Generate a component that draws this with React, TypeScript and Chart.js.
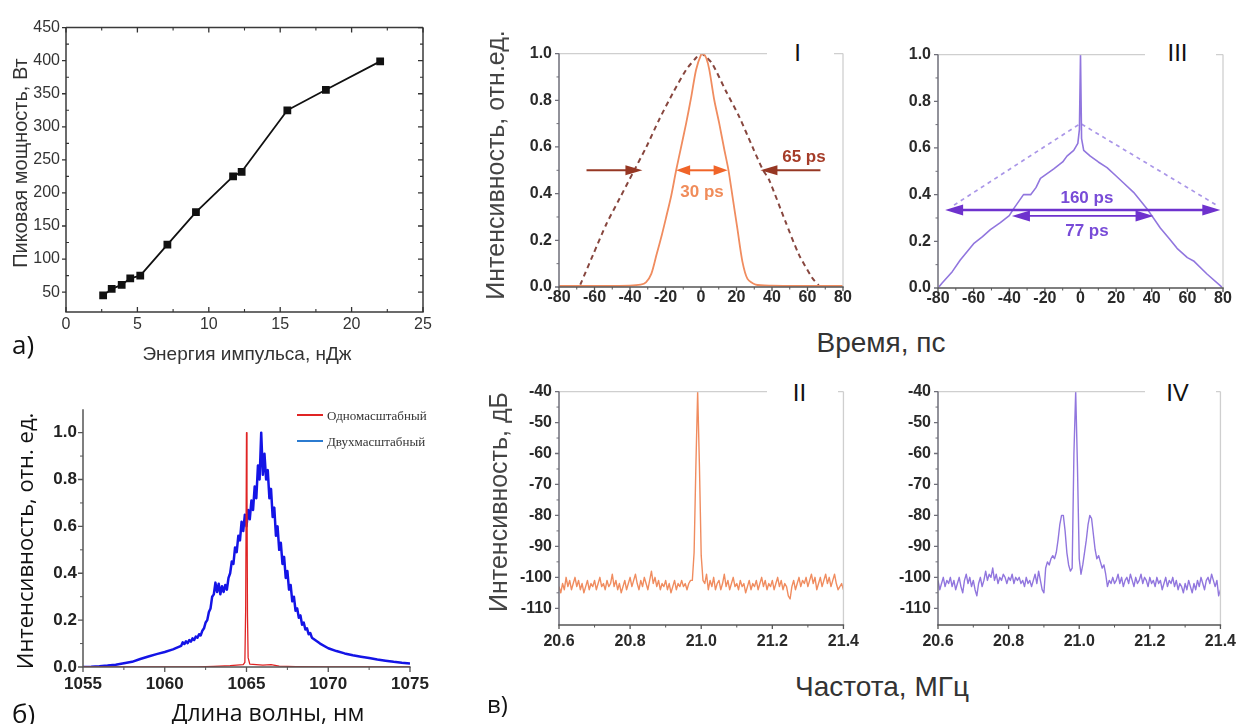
import React, { useEffect, useRef } from "react";
import { Chart, registerables } from "chart.js";

Chart.register(...registerables);

const SANS = "'Liberation Sans', Arial, Helvetica, sans-serif";
const SERIF = "'Liberation Serif', 'Times New Roman', serif";
const CAL = "'Open Sans', 'Noto Sans', sans-serif";

// ---------- а) peak power vs pulse energy ----------
const energyA = [2.6, 3.2, 3.9, 4.5, 5.2, 7.1, 9.1, 11.7, 12.3, 15.5, 18.2, 22.0];
const powerA = [45, 55, 61, 71, 75, 122, 171, 225, 232, 325, 356, 399];
const xTicksA = [0, 5, 10, 15, 20, 25];
const yTicksA = [50, 100, 150, 200, 250, 300, 350, 400, 450];

// ---------- б) spectra ----------
const legendB = ["Одномасштабный", "Двухмасштабный"];
const wavelengthRed = [1055, 1062, 1063, 1064, 1064.8, 1064.9, 1064.95, 1065, 1065.03, 1065.06, 1065.1, 1065.2, 1066, 1066.5, 1067, 1068, 1070, 1075];
const intensityRed = [0, 0, 0.003, 0.006, 0.01, 0.02, 0.25, 1.0, 0.75, 0.22, 0.04, 0.012, 0.008, 0.01, 0.004, 0.002, 0, 0];
const wavelengthBlue = [
  1055, 1055.5, 1056, 1056.5, 1057, 1057.5, 1058, 1058.5, 1059, 1059.5, 1060, 1060.5,
  1061, 1061.1, 1061.2, 1061.3, 1061.4, 1061.5, 1061.6, 1061.7, 1061.8, 1061.9,
  1062, 1062.1, 1062.2, 1062.3, 1062.4, 1062.5, 1062.6, 1062.7, 1062.8, 1062.9,
  1063, 1063.1, 1063.2, 1063.3, 1063.4, 1063.5, 1063.6, 1063.7, 1063.8, 1063.9,
  1064, 1064.1, 1064.2, 1064.3, 1064.4, 1064.5, 1064.6, 1064.7, 1064.8, 1064.9,
  1065, 1065.1, 1065.2, 1065.3, 1065.4, 1065.5, 1065.6, 1065.7, 1065.8, 1065.9,
  1066, 1066.1, 1066.2, 1066.3, 1066.4, 1066.5, 1066.6, 1066.7, 1066.8, 1066.9,
  1067, 1067.1, 1067.2, 1067.3, 1067.4, 1067.5, 1067.6, 1067.7, 1067.8, 1067.9,
  1068, 1068.1, 1068.2, 1068.3, 1068.4, 1068.5, 1068.6, 1068.7, 1068.8, 1068.9,
  1069,
  1069.5, 1070, 1070.5, 1071, 1071.5, 1072, 1072.5, 1073, 1073.5, 1074, 1074.5, 1075,
];
const intensityBlue = [
  0, 0.001, 0.003, 0.006, 0.01, 0.016, 0.022, 0.034, 0.045, 0.055, 0.064, 0.075,
  0.09, 0.105, 0.098, 0.11, 0.102, 0.115, 0.108, 0.122, 0.115, 0.13,
  0.125, 0.14, 0.135, 0.155, 0.165, 0.19, 0.2, 0.235, 0.25, 0.3,
  0.31, 0.36, 0.32, 0.355, 0.31, 0.345, 0.32, 0.35, 0.33, 0.38,
  0.4, 0.45, 0.44, 0.51, 0.49, 0.56, 0.54, 0.62, 0.58, 0.65,
  0.6, 0.67, 0.63, 0.71, 0.67, 0.77, 0.72, 0.86, 0.8, 1.0,
  0.82, 0.91, 0.8, 0.84, 0.72, 0.76, 0.64, 0.68, 0.56, 0.6,
  0.5, 0.53, 0.44, 0.47, 0.38, 0.41, 0.33, 0.35, 0.28, 0.3,
  0.24, 0.25, 0.21, 0.22, 0.18, 0.19, 0.16, 0.165, 0.14, 0.145,
  0.125,
  0.1, 0.08, 0.068, 0.058, 0.05, 0.044, 0.038, 0.032, 0.027, 0.022, 0.018, 0.015,
];
const xTicksB = [1055, 1060, 1065, 1070, 1075];
const yTicksB = [0, 0.2, 0.4, 0.6, 0.8, 1.0];

// ---------- в) I: single-scale pulse ----------
const timeISolid = [-80, -60, -40, -34, -31, -28, -25, -22, -19.6, -16.8, -14, -11.2, -8.4, -5.6, -2.8, 0, 1.3, 3, 4.7, 7.5, 10.3, 13.1, 15.5, 17.7, 20.5, 23.3, 26.2, 30.8, 40, 60, 80];
const intensityISolid = [0.005, 0.005, 0.006, 0.01, 0.02, 0.056, 0.14, 0.225, 0.3, 0.39, 0.5, 0.6, 0.7, 0.81, 0.93, 0.995, 1.0, 0.98, 0.93, 0.8, 0.7, 0.59, 0.5, 0.39, 0.25, 0.11, 0.035, 0.01, 0.006, 0.005, 0.005];
const timeIDashed = [-68, -60.7, -53.3, -45.8, -38.3, -30.8, -23.4, -15.9, -8.4, -3, 0, 3, 6.5, 14, 21.5, 29, 34.6, 38.3, 47.6, 55.1, 62.6, 66.3];
const intensityIDashed = [0.01, 0.14, 0.27, 0.38, 0.49, 0.6, 0.72, 0.83, 0.93, 0.98, 1.0, 0.985, 0.955, 0.84, 0.73, 0.6, 0.506, 0.46, 0.28, 0.14, 0.04, 0.007];
const arrowsIOuter = [[-64.5, -33, 0.5], [67.3, 33.5, 0.5]];
const arrowIInner = [-14, 15, 0.5];
const textsI = [["65 ps", 58, 0.555], ["30 ps", 0.6, 0.407]];

// ---------- в) III: two-scale pulse ----------
const timeIIISolid = [-79.4, -77.8, -72, -67.5, -60, -55, -50.6, -45, -40, -37.5, -32, -28, -25, -22.5, -15, -10, -7.6, -3.8, -1.5, -0.6, 0, 0.6, 1.8, 5.5, 10, 14.9, 20, 24.2, 29.8, 33, 37.3, 44.8, 50, 54.2, 60, 63.5, 71, 79.4];
const intensityIIISolid = [0.005, 0.02, 0.07, 0.12, 0.19, 0.22, 0.25, 0.28, 0.31, 0.34, 0.4, 0.4, 0.43, 0.47, 0.51, 0.54, 0.565, 0.59, 0.62, 0.68, 1.0, 0.64, 0.59, 0.565, 0.54, 0.516, 0.48, 0.45, 0.41, 0.38, 0.34, 0.257, 0.21, 0.17, 0.13, 0.116, 0.06, 0.004];
const timeIIIDashed = [-71, 0, 77.5];
const intensityIIIDashed = [0.355, 0.705, 0.35];
const arrowsIII = [[-76, 78.5, 0.334], [-38.5, 41, 0.309]];
const textsIII = [["160 ps", 3.6, 0.383], ["77 ps", 3.6, 0.243]];

const timeTicks = [-80, -60, -40, -20, 0, 20, 40, 60, 80];
const relTicks = [0, 0.2, 0.4, 0.6, 0.8, 1.0];

// ---------- в) II / IV: RF spectra ----------
const freqRF = [
  20.6, 20.605, 20.61, 20.615, 20.62, 20.625, 20.63, 20.635, 20.64, 20.645,
  20.65, 20.655, 20.66, 20.665, 20.67, 20.675, 20.68, 20.685, 20.69, 20.695,
  20.7, 20.705, 20.71, 20.715, 20.72, 20.725, 20.73, 20.735, 20.74, 20.745,
  20.75, 20.755, 20.76, 20.765, 20.77, 20.775, 20.78, 20.785, 20.79, 20.795,
  20.8, 20.805, 20.81, 20.815, 20.82, 20.825, 20.83, 20.835, 20.84, 20.845,
  20.85, 20.855, 20.86, 20.865, 20.87, 20.875, 20.88, 20.885, 20.89, 20.895,
  20.9, 20.905, 20.91, 20.915, 20.92, 20.925, 20.93, 20.935, 20.94, 20.945,
  20.95, 20.955, 20.96, 20.965, 20.97, 20.975, 20.98, 20.985, 20.99, 20.995,
  21.0, 21.005, 21.01, 21.015, 21.02, 21.025, 21.03, 21.035, 21.04, 21.045,
  21.05, 21.055, 21.06, 21.065, 21.07, 21.075, 21.08, 21.085, 21.09, 21.095,
  21.1, 21.105, 21.11, 21.115, 21.12, 21.125, 21.13, 21.135, 21.14, 21.145,
  21.15, 21.155, 21.16, 21.165, 21.17, 21.175, 21.18, 21.185, 21.19, 21.195,
  21.2, 21.205, 21.21, 21.215, 21.22, 21.225, 21.23, 21.235, 21.24, 21.245,
  21.25, 21.255, 21.26, 21.265, 21.27, 21.275, 21.28, 21.285, 21.29, 21.295,
  21.3, 21.305, 21.31, 21.315, 21.32, 21.325, 21.33, 21.335, 21.34, 21.345,
  21.35, 21.355, 21.36, 21.365, 21.37, 21.375, 21.38, 21.385, 21.39, 21.395,
  21.4,
];
const levelII = [
  -103, -105, -102, -104, -100, -103, -101, -104, -102, -100,
  -103, -101, -104, -102, -105, -103, -101, -104, -102, -103,
  -101, -104, -102, -100, -103, -102, -104, -101, -103, -102,
  -99, -103, -101, -104, -102, -105, -103, -101, -104, -102,
  -100, -103, -101, -99, -102, -104, -101, -103, -100, -102,
  -104, -101, -98, -102, -100, -103, -101, -104, -102, -103,
  -101, -104, -102, -105, -103, -101, -104, -102, -103, -101,
  -103, -102, -104, -102, -101, -101, -92, -64, -40, -64,
  -93, -101, -102, -99, -104, -101, -103, -100, -104, -102,
  -101, -104, -102, -99, -103, -101, -104, -102, -100, -103,
  -102, -104, -101, -103, -102, -105, -103, -101, -104, -102,
  -103, -101, -104, -102, -100, -103, -101, -104, -102, -103,
  -101, -104, -102, -100, -103, -101, -104, -102, -103, -106,
  -107, -103, -101, -104, -102, -100, -103, -101, -102, -100,
  -103, -101, -99, -102, -100, -104, -102, -100, -103, -101,
  -99, -102, -100, -103, -101, -99, -102, -104, -103, -102,
  -104,
];
const levelIV = [
  -101, -104, -102, -100, -103, -101, -102, -100, -103, -101,
  -104, -102, -100, -103, -105, -101, -99, -102, -100, -103,
  -101, -104, -106, -102, -100, -103, -101, -98, -101, -99,
  -100, -97, -101, -99, -102, -100, -101, -99, -100, -102,
  -100, -101, -99, -102, -100, -101, -100, -102, -101, -103,
  -100, -102, -101, -103, -101, -99, -102, -98, -101, -104,
  -105, -97, -95, -96, -94, -93, -94, -92, -88, -83,
  -80, -80, -85, -92, -96, -98, -97, -60, -40, -64,
  -94, -99, -96, -92, -88, -83, -80, -81, -86, -91,
  -94, -93, -95, -97, -96, -99, -103, -101, -102, -100,
  -102, -101, -99, -102, -100, -103, -101, -100, -102, -99,
  -101, -103, -100, -102, -101, -99, -102, -100, -101, -103,
  -100, -102, -101, -103, -100, -102, -101, -104, -102, -100,
  -103, -101, -102, -100, -103, -101, -104, -102, -103, -105,
  -102, -104, -101, -103, -105, -102, -104, -101, -103, -100,
  -102, -104, -101, -100, -102, -99, -101, -103, -101, -106,
  -104,
];
const freqTicks = [20.6, 20.8, 21.0, 21.2, 21.4];
const dbTicks = [-110, -100, -90, -80, -70, -60, -50, -40];

// ---------- helpers ----------
const zip = (xs: number[], ys: number[]) => xs.map((x, i) => ({ x, y: ys[i] }));
const mids = (a: number[]) => a.slice(1).map((v, i) => (a[i] + v) / 2);

type Side = "top" | "bottom" | "left" | "right";
interface LineSpec { side: Side; color: string; width: number }
interface TickSpec { side: Side; values: number[]; len: number; out: boolean; color: string; width: number }
interface ArrowSpec { x1: number; x2: number; y: number; color: string; width: number; both: boolean; hl: number; hw: number }
interface TextSpec { text: string; x: number; y: number; color: string; font: string }

interface PanelSpec {
  key: string;
  L: number; T: number; R: number; B: number;
  yW: number; xH: number; padT: number; padR: number;
  xMin: number; xMax: number; yMin: number; yMax: number;
  xMajor: number[]; yMajor: number[];
  xFmt: (v: number) => string; yFmt: (v: number) => string;
  xPad: number; yPad: number;
  tickFont: any; tickColor: string;
  datasets: any[];
  lines: LineSpec[]; ticks: TickSpec[];
  arrows?: ArrowSpec[]; texts?: TextSpec[];
}

function buildConfig(p: PanelSpec) {
  const frame = {
    id: "frame",
    afterDatasetsDraw(chart: any) {
      const { ctx, chartArea: a, scales } = chart;
      ctx.save();
      for (const l of p.lines) {
        ctx.strokeStyle = l.color;
        ctx.lineWidth = l.width;
        ctx.beginPath();
        if (l.side === "top") { ctx.moveTo(a.left, a.top); ctx.lineTo(a.right, a.top); }
        if (l.side === "bottom") { ctx.moveTo(a.left - 0.7, a.bottom); ctx.lineTo(a.right + 0.7, a.bottom); }
        if (l.side === "left") { ctx.moveTo(a.left, a.top); ctx.lineTo(a.left, a.bottom); }
        if (l.side === "right") { ctx.moveTo(a.right, a.top); ctx.lineTo(a.right, a.bottom); }
        ctx.stroke();
      }
      for (const t of p.ticks) {
        ctx.strokeStyle = t.color;
        ctx.lineWidth = t.width;
        ctx.beginPath();
        for (const v of t.values) {
          if (t.side === "bottom" || t.side === "top") {
            const px = scales.x.getPixelForValue(v);
            const y0 = t.side === "bottom" ? a.bottom : a.top;
            const s = (t.side === "bottom" ? 1 : -1) * (t.out ? 1 : -1);
            ctx.moveTo(px, y0);
            ctx.lineTo(px, y0 + s * t.len);
          } else {
            const py = scales.y.getPixelForValue(v);
            const x0 = t.side === "left" ? a.left : a.right;
            const s = (t.side === "left" ? -1 : 1) * (t.out ? 1 : -1);
            ctx.moveTo(x0, py);
            ctx.lineTo(x0 + s * t.len, py);
          }
        }
        ctx.stroke();
      }
      const head = (tip: number, y: number, dir: number, hl: number, hw: number) => {
        ctx.beginPath();
        ctx.moveTo(tip, y);
        ctx.lineTo(tip - dir * hl, y - hw);
        ctx.lineTo(tip - dir * hl, y + hw);
        ctx.closePath();
        ctx.fill();
      };
      for (const ar of p.arrows || []) {
        const x1 = scales.x.getPixelForValue(ar.x1);
        const x2 = scales.x.getPixelForValue(ar.x2);
        const py = scales.y.getPixelForValue(ar.y);
        const dir = x2 > x1 ? 1 : -1;
        ctx.strokeStyle = ar.color;
        ctx.fillStyle = ar.color;
        ctx.lineWidth = ar.width;
        ctx.beginPath();
        ctx.moveTo(ar.both ? x1 + dir * ar.hl * 0.8 : x1, py);
        ctx.lineTo(x2 - dir * ar.hl * 0.8, py);
        ctx.stroke();
        head(x2, py, dir, ar.hl, ar.hw);
        if (ar.both) head(x1, py, -dir, ar.hl, ar.hw);
      }
      for (const t of p.texts || []) {
        ctx.font = t.font;
        ctx.fillStyle = t.color;
        ctx.textAlign = "center";
        ctx.textBaseline = "middle";
        ctx.fillText(t.text, scales.x.getPixelForValue(t.x), scales.y.getPixelForValue(t.y));
      }
      ctx.restore();
    },
  };
  const axis = (min: number, max: number, major: number[], fmt: (v: number) => string, pad: number, isX: boolean, size: number) => ({
    type: "linear",
    min,
    max,
    grid: { display: false, drawTicks: false },
    border: { display: false },
    afterBuildTicks: (s: any) => { s.ticks = major.map((v) => ({ value: v })); },
    afterFit: (s: any) => { if (isX) s.height = size; else s.width = size; },
    ticks: {
      autoSkip: false,
      maxRotation: 0,
      minRotation: 0,
      padding: pad,
      font: p.tickFont,
      color: p.tickColor,
      callback: (v: any) => fmt(Number(v)),
    },
  });
  return {
    type: "line",
    data: { datasets: p.datasets },
    options: {
      animation: false,
      responsive: false,
      maintainAspectRatio: false,
      events: [],
      layout: { padding: { left: 0, top: p.padT, right: p.padR, bottom: 0 } },
      plugins: { legend: { display: false }, tooltip: { enabled: false } },
      elements: { point: { radius: 0 }, line: { borderJoinStyle: "round" } },
      scales: {
        x: axis(p.xMin, p.xMax, p.xMajor, p.xFmt, p.xPad, true, p.xH),
        y: axis(p.yMin, p.yMax, p.yMajor, p.yFmt, p.yPad, false, p.yW),
      },
    },
    plugins: [frame],
  };
}

function ChartCanvas({ spec }: { spec: PanelSpec }) {
  const ref = useRef<HTMLCanvasElement | null>(null);
  const w = spec.R - spec.L + spec.yW + spec.padR;
  const h = spec.B - spec.T + spec.padT + spec.xH;
  useEffect(() => {
    if (!ref.current) return;
    const chart = new Chart(ref.current, buildConfig(spec) as any);
    return () => chart.destroy();
  }, []);
  return (
    <canvas
      ref={ref}
      width={w}
      height={h}
      style={{ position: "absolute", left: spec.L - spec.yW, top: spec.T - spec.padT, width: w, height: h }}
    />
  );
}

// ---------- panel styles ----------
const RU_GRAY_AXIS = "#6e6e78";
const RU_BOTTOM = "#555";
const RU_LIGHT = "#cfcfcf";
const ORANGE = "rgb(240,140,95)";
const PURPLE = "rgb(145,118,222)";
const boldTick = { family: SANS, size: 16, weight: "bold" as const };

function ruFrame(xMajor: number[], yMajor: number[]): { lines: LineSpec[]; ticks: TickSpec[] } {
  return {
    lines: [
      { side: "top", color: RU_LIGHT, width: 1.3 },
      { side: "right", color: RU_LIGHT, width: 1.3 },
      { side: "left", color: RU_GRAY_AXIS, width: 1.5 },
      { side: "bottom", color: RU_BOTTOM, width: 1.5 },
    ],
    ticks: [
      { side: "left", values: yMajor, len: 4, out: true, color: RU_GRAY_AXIS, width: 1.3 },
      { side: "left", values: mids(yMajor), len: 2.5, out: true, color: RU_GRAY_AXIS, width: 1 },
      { side: "bottom", values: xMajor, len: 4, out: true, color: RU_BOTTOM, width: 1.3 },
      { side: "bottom", values: mids(xMajor), len: 2.5, out: true, color: RU_BOTTOM, width: 1 },
    ],
  };
}

const panels: PanelSpec[] = [
  {
    key: "a",
    L: 66, T: 24, R: 423, B: 312, yW: 66, xH: 32, padT: 12, padR: 22,
    xMin: 0, xMax: 25, yMin: 20, yMax: 450,
    xMajor: xTicksA, yMajor: yTicksA,
    xFmt: (v) => String(v), yFmt: (v) => String(v),
    xPad: 3, yPad: 6,
    tickFont: { family: SANS, size: 16 }, tickColor: "#333",
    datasets: [
      {
        data: zip(energyA, powerA),
        borderColor: "#111",
        borderWidth: 1.8,
        pointStyle: "rect",
        pointRadius: 5.5,
        pointBackgroundColor: "#111",
        pointBorderColor: "#111",
        pointBorderWidth: 0,
      },
    ],
    lines: [
      { side: "top", color: "#3a3a3a", width: 1.5 },
      { side: "right", color: "#3a3a3a", width: 1.5 },
      { side: "left", color: "#3a3a3a", width: 1.5 },
      { side: "bottom", color: "#3a3a3a", width: 1.5 },
    ],
    ticks: [
      { side: "bottom", values: xTicksA, len: 5, out: false, color: "#333", width: 1.3 },
      { side: "bottom", values: mids(xTicksA), len: 3, out: false, color: "#333", width: 1.1 },
      { side: "top", values: xTicksA, len: 5, out: false, color: "#333", width: 1.3 },
      { side: "top", values: mids(xTicksA), len: 3, out: false, color: "#333", width: 1.1 },
      { side: "left", values: yTicksA, len: 4, out: true, color: "#333", width: 1.3 },
      { side: "left", values: mids(yTicksA), len: 3, out: false, color: "#333", width: 1.1 },
      { side: "right", values: yTicksA, len: 5, out: false, color: "#333", width: 1.3 },
      { side: "right", values: mids(yTicksA), len: 3, out: false, color: "#333", width: 1.1 },
    ],
  },
  {
    key: "b",
    L: 83, T: 403, R: 410, B: 667, yW: 62, xH: 30, padT: 10, padR: 28,
    xMin: 1055, xMax: 1075, yMin: 0, yMax: 1.1,
    xMajor: xTicksB, yMajor: yTicksB,
    xFmt: (v) => String(v), yFmt: (v) => v.toFixed(1),
    xPad: 7, yPad: 6,
    tickFont: { family: SANS, size: 17, weight: "bold" }, tickColor: "#222",
    datasets: [
      { data: zip(wavelengthRed, intensityRed), borderColor: "#e02424", borderWidth: 1.3 },
      { data: zip(wavelengthBlue, intensityBlue), borderColor: "#1414e6", borderWidth: 2.5 },
    ],
    lines: [
      { side: "left", color: "#555", width: 1.5 },
      { side: "bottom", color: "#555", width: 1.5 },
    ],
    ticks: [
      { side: "left", values: yTicksB, len: 5, out: true, color: "#555", width: 1.3 },
      { side: "left", values: mids(yTicksB), len: 3, out: true, color: "#555", width: 1 },
      { side: "bottom", values: xTicksB, len: 5, out: true, color: "#555", width: 1.3 },
      { side: "bottom", values: mids(xTicksB), len: 3, out: true, color: "#555", width: 1 },
    ],
  },
  {
    key: "I",
    L: 559, T: 49, R: 843, B: 287, yW: 52, xH: 24, padT: 12, padR: 22,
    xMin: -80, xMax: 80, yMin: 0, yMax: 1,
    xMajor: timeTicks, yMajor: relTicks,
    xFmt: (v) => String(v), yFmt: (v) => v.toFixed(1),
    xPad: 1, yPad: 7,
    tickFont: boldTick, tickColor: "#2a2a2a",
    datasets: [
      { data: zip(timeISolid, intensityISolid), borderColor: ORANGE, borderWidth: 1.8, tension: 0.25 },
      { data: zip(timeIDashed, intensityIDashed), borderColor: "rgb(135,70,62)", borderWidth: 2, borderDash: [5, 4], tension: 0.25 },
    ],
    ...ruFrame(timeTicks, relTicks),
    arrows: [
      ...arrowsIOuter.map(([x1, x2, y]) => ({ x1, x2, y, color: "rgb(150,55,35)", width: 2, both: false, hl: 17, hw: 5 })),
      { x1: arrowIInner[0], x2: arrowIInner[1], y: arrowIInner[2], color: "rgb(240,100,40)", width: 2, both: true, hl: 14, hw: 5 },
    ],
    texts: [
      { text: String(textsI[0][0]), x: Number(textsI[0][1]), y: Number(textsI[0][2]), color: "rgb(165,60,40)", font: `bold 17px ${SANS}` },
      { text: String(textsI[1][0]), x: Number(textsI[1][1]), y: Number(textsI[1][2]), color: "rgb(240,140,90)", font: `bold 17px ${SANS}` },
    ],
  },
  {
    key: "III",
    L: 938, T: 50, R: 1223, B: 288, yW: 52, xH: 24, padT: 12, padR: 20,
    xMin: -80, xMax: 80, yMin: 0, yMax: 1,
    xMajor: timeTicks, yMajor: relTicks,
    xFmt: (v) => String(v), yFmt: (v) => v.toFixed(1),
    xPad: 1, yPad: 7,
    tickFont: boldTick, tickColor: "#2a2a2a",
    datasets: [
      { data: zip(timeIIISolid, intensityIIISolid), borderColor: PURPLE, borderWidth: 1.6 },
      { data: zip(timeIIIDashed, intensityIIIDashed), borderColor: "rgb(170,150,232)", borderWidth: 1.7, borderDash: [4, 4] },
    ],
    ...ruFrame(timeTicks, relTicks),
    arrows: arrowsIII.map(([x1, x2, y], i) => ({ x1, x2, y, color: "rgb(110,50,205)", width: i === 0 ? 2.4 : 1.8, both: true, hl: 18, hw: 5.5 })),
    texts: textsIII.map(([t, x, y]) => ({ text: String(t), x: Number(x), y: Number(y), color: "rgb(120,75,215)", font: `bold 17px ${SANS}` })),
  },
  {
    key: "II",
    L: 559, T: 387, R: 846, B: 625, yW: 56, xH: 30, padT: 12, padR: 20,
    xMin: 20.6, xMax: 21.4, yMin: -115.4, yMax: -40,
    xMajor: freqTicks, yMajor: dbTicks,
    xFmt: (v) => v.toFixed(1), yFmt: (v) => String(v),
    xPad: 7, yPad: 7,
    tickFont: boldTick, tickColor: "#2a2a2a",
    datasets: [{ data: zip(freqRF, levelII), borderColor: ORANGE, borderWidth: 1.4 }],
    ...ruFrame(freqTicks, dbTicks),
  },
  {
    key: "IV",
    L: 938, T: 387, R: 1223, B: 625, yW: 56, xH: 30, padT: 12, padR: 20,
    xMin: 20.6, xMax: 21.4, yMin: -115.4, yMax: -40,
    xMajor: freqTicks, yMajor: dbTicks,
    xFmt: (v) => v.toFixed(1), yFmt: (v) => String(v),
    xPad: 7, yPad: 7,
    tickFont: boldTick, tickColor: "#2a2a2a",
    datasets: [{ data: zip(freqRF, levelIV), borderColor: PURPLE, borderWidth: 1.4 }],
    ...ruFrame(freqTicks, dbTicks),
  },
];

// ---------- HTML text helpers ----------
function HText({ text, cx, cy, size, family, color }: { text: string; cx: number; cy: number; size: number; family: string; color: string }) {
  return (
    <div
      style={{
        position: "absolute",
        left: cx,
        top: cy - size / 2,
        transform: "translateX(-50%)",
        fontFamily: family,
        fontSize: size,
        lineHeight: 1,
        color,
        whiteSpace: "nowrap",
      }}
    >
      {text}
    </div>
  );
}

function VText({ text, cx, cy, size, family, color }: { text: string; cx: number; cy: number; size: number; family: string; color: string }) {
  return (
    <div
      style={{
        position: "absolute",
        left: cx,
        top: cy,
        transform: "translate(-50%, -50%) rotate(-90deg)",
        fontFamily: family,
        fontSize: size,
        lineHeight: 1,
        color,
        whiteSpace: "nowrap",
      }}
    >
      {text}
    </div>
  );
}

function LText({ text, left, cy, size, family, color }: { text: string; left: number; cy: number; size: number; family: string; color: string }) {
  return (
    <div style={{ position: "absolute", left, top: cy - size / 2, fontFamily: family, fontSize: size, lineHeight: 1, color, whiteSpace: "nowrap" }}>
      {text}
    </div>
  );
}

const romanBoxes = [
  { label: "I", left: 767, top: 30, width: 67, height: 58, cy: 53 },
  { label: "III", left: 1145, top: 30, width: 71, height: 58, cy: 53 },
  { label: "II", left: 767, top: 370, width: 71, height: 58, cy: 393 },
  { label: "IV", left: 1145, top: 370, width: 71, height: 58, cy: 393 },
];

export default function App() {
  return (
    <div style={{ position: "absolute", left: 0, top: 0, width: 1245, height: 724, background: "#fff", overflow: "hidden" }}>
      {panels.map((p) => (
        <ChartCanvas key={p.key} spec={p} />
      ))}

      {romanBoxes.map((b) => (
        <div key={b.label} style={{ position: "absolute", left: b.left, top: b.top, width: b.width, height: b.height, background: "#fff" }}>
          <div
            style={{
              position: "absolute",
              left: 0,
              width: b.width - 6,
              top: b.cy - b.top - 12,
              textAlign: "center",
              fontFamily: SANS,
              fontSize: 24,
              lineHeight: 1,
              color: "#111",
            }}
          >
            {b.label}
          </div>
        </div>
      ))}

      {/* а) */}
      <VText text="Пиковая мощность, Вт" cx={20} cy={163} size={20} family={SANS} color="#333" />
      <HText text="Энергия импульса, нДж" cx={247} cy={353} size={19} family={SANS} color="#333" />
      <LText text="а)" left={12} cy={344} size={26} family={CAL} color="#111" />

      {/* б) */}
      <VText text="Интенсивность, отн. ед." cx={24} cy={541} size={22} family={CAL} color="#111" />
      <HText text="Длина волны, нм" cx={268} cy={712} size={23} family={CAL} color="#111" />
      <LText text="б)" left={12} cy={713} size={26} family={CAL} color="#111" />
      <div style={{ position: "absolute", left: 297, top: 414, width: 26, height: 2, background: "#e02424" }} />
      <div style={{ position: "absolute", left: 297, top: 440, width: 26, height: 2, background: "#2b7bd0" }} />
      <LText text={legendB[0]} left={327} cy={415} size={13} family={SERIF} color="#333" />
      <LText text={legendB[1]} left={327} cy={441} size={13} family={SERIF} color="#333" />

      {/* в) */}
      <VText text="Интенсивность, отн.ед." cx={495} cy={165} size={25} family={SANS} color="#444" />
      <HText text="Время, пс" cx={881} cy={343} size={28} family={SANS} color="#333" />
      <VText text="Интенсивность, дБ" cx={498} cy={502} size={25} family={SANS} color="#444" />
      <HText text="Частота, МГц" cx={882} cy={687} size={28} family={SANS} color="#333" />
      <LText text="в)" left={487} cy={704} size={24} family={CAL} color="#111" />
    </div>
  );
}
